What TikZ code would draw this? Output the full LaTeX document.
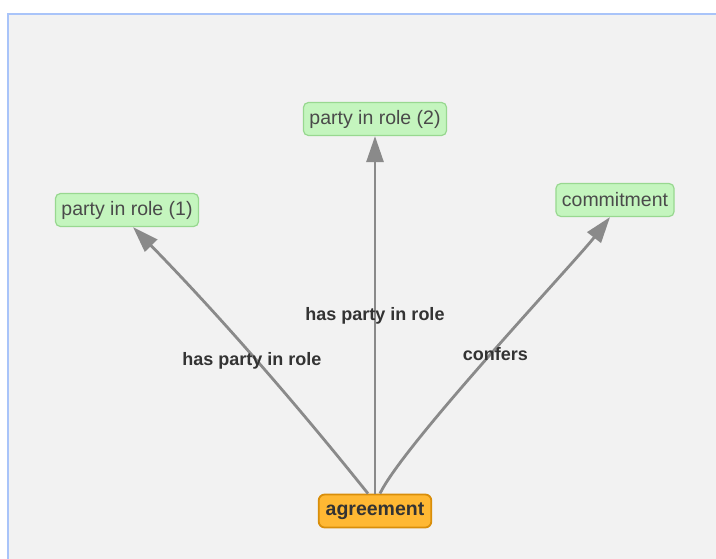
\documentclass[tikz,border=0pt]{standalone}
\usepackage{fontspec}
\setmainfont{Liberation Sans}
\usetikzlibrary{arrows.meta}
\definecolor{bgc}{HTML}{F2F2F2}
\definecolor{framec}{HTML}{A9C4F9}
\definecolor{greenfill}{HTML}{C4F5BE}
\definecolor{greendraw}{HTML}{98D890}
\definecolor{orangefill}{HTML}{FFB833}
\definecolor{orangedraw}{HTML}{D98E0A}
\definecolor{edgec}{HTML}{8A8A8A}
\definecolor{txtc}{HTML}{4A4A4A}
\definecolor{lblc}{HTML}{333333}
\tikzset{
  classbox/.style={draw=greendraw, fill=greenfill, line width=1.2pt, rounded corners=5pt,
    minimum height=33pt, inner xsep=6pt, inner ysep=0pt, text=txtc,
    font=\fontsize{19.5}{22}\selectfont},
  mainbox/.style={draw=orangedraw, fill=orangefill, line width=1.8pt, rounded corners=6pt,
    minimum height=33pt, inner xsep=7pt, inner ysep=0pt, text=lblc,
    font=\fontsize{19.5}{22}\selectfont\bfseries},
  rel/.style={draw=edgec, line width=2.8pt, -{Triangle[length=26pt,width=17pt]}},
  rellabel/.style={text=lblc, font=\fontsize{18}{20}\selectfont\bfseries, inner sep=0pt}
}
\begin{document}
\begin{tikzpicture}[x=1pt,y=-1pt]
\useasboundingbox (0,0) rectangle (716,558);
\fill[bgc] (8,14) rectangle (720,562);
\draw[framec, line width=2pt] (8,562) -- (8,14) -- (720,14);

\node[classbox] (p2) at (375,119) {party in role (2)};
\node[classbox] (p1) at (127,210) {party in role (1)};
\node[classbox] (commit) at (615,200) {commitment};
\node[mainbox] (agr) at (375,511) {agreement};

\draw[rel] ([xshift=-7pt]agr.north) .. controls (294,401) and (216,312) .. ([xshift=6pt]p1.south)
  node[rellabel, pos=0.5, yshift=-3pt, xshift=-2pt] {has party in role};
\draw[rel] (agr.north) -- (p2.south)
  node[rellabel, pos=0.5, yshift=-1pt] {has party in role};
\draw[rel] ([xshift=5pt]agr.north) .. controls (403,445) and (575,262) .. ([xshift=-5pt]commit.south)
  node[rellabel, pos=0.5, xshift=5pt] {confers};
\end{tikzpicture}
\end{document}
